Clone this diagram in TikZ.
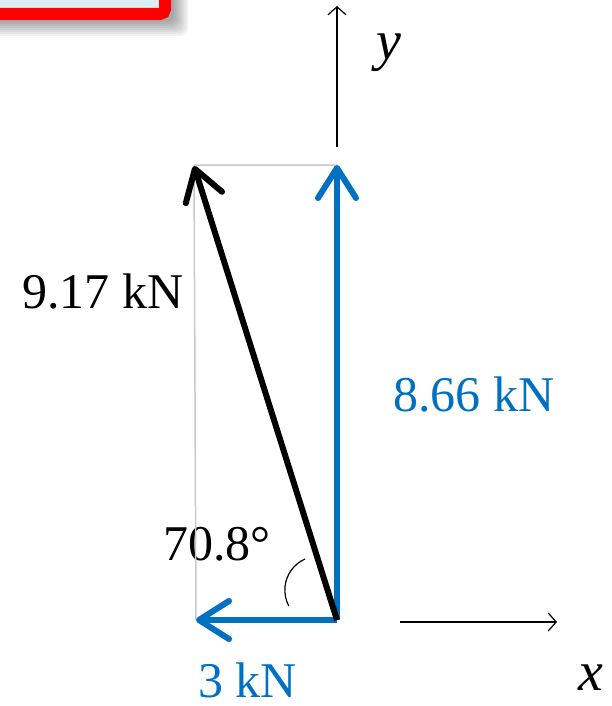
\documentclass[tikz,border=0pt]{standalone}
\usepackage{fontspec}
\setmainfont{Liberation Serif}
\usetikzlibrary{arrows.meta,positioning}
\definecolor{forceblue}{HTML}{0070C0}
\definecolor{boxfill}{HTML}{DAEEF3}
\definecolor{guide}{HTML}{C8C8C8}

\begin{document}
\begin{tikzpicture}[
    x=1pt, y=-1pt,
    force/.style={line width=6pt, -{Straight Barb[length=30pt,width=38pt,round]}},
    comp/.style={force, draw=forceblue},
    axis/.style={line width=1.2pt, -{Straight Barb[length=8pt,width=18pt]}},
    lbl/.style={font=\fontsize{50}{60}\selectfont, inner sep=0pt, anchor=base west},
    axlbl/.style={font=\fontsize{56}{66}\selectfont\itshape, inner sep=0pt, anchor=base west},
    title/.style={draw=red, line width=12pt, fill=boxfill, rounded corners=5pt}
]
\useasboundingbox (0,0) rectangle (611,706);

% Box with soft shadow
\foreach \s in {2,4,...,16}
    \fill[black, opacity=0.05, rounded corners=8pt] (-40,-60) rectangle (172+\s,20+\s);
\path[title] (-40,-60) rectangle (165,14);

% Nodes
\coordinate (O) at (337,620);
\coordinate (Fy) at (337,165);
\coordinate (Fx) at (196,620);
\coordinate (F) at (194,166);
\coordinate (C) at (194,165);
\coordinate (ybot) at (337,147);
\coordinate (ytop) at (337,6);
\coordinate (xl) at (400,622);
\coordinate (xr) at (557,622);

\node[lbl] (R) at (22,308) {9.17 kN};
\node[lbl, text=forceblue] (Ry) at (393,411) {8.66 kN};
\node[lbl] (ang) at (163,560) {70.8°};
\node[lbl, text=forceblue] (Rx) at (198,697) {3 kN};
\node[axlbl] (ylab) at (376,60) {y};
\node[axlbl] (xlab) at (578,690) {x};

% Connections
\draw[guide, line width=1.5pt] (Fx) -- (C) -- (Fy);
\draw[axis] (ybot) -- (ytop);
\draw[axis] (xl) -- (xr);
\draw[comp] (O) -- (Fy);
\draw[comp] (O) -- (Fx);
\draw[force] (O) -- (F);
\draw[line width=1.2pt] (305,559) arc[start angle=246, end angle=152, radius=34];

\end{tikzpicture}
\end{document}
